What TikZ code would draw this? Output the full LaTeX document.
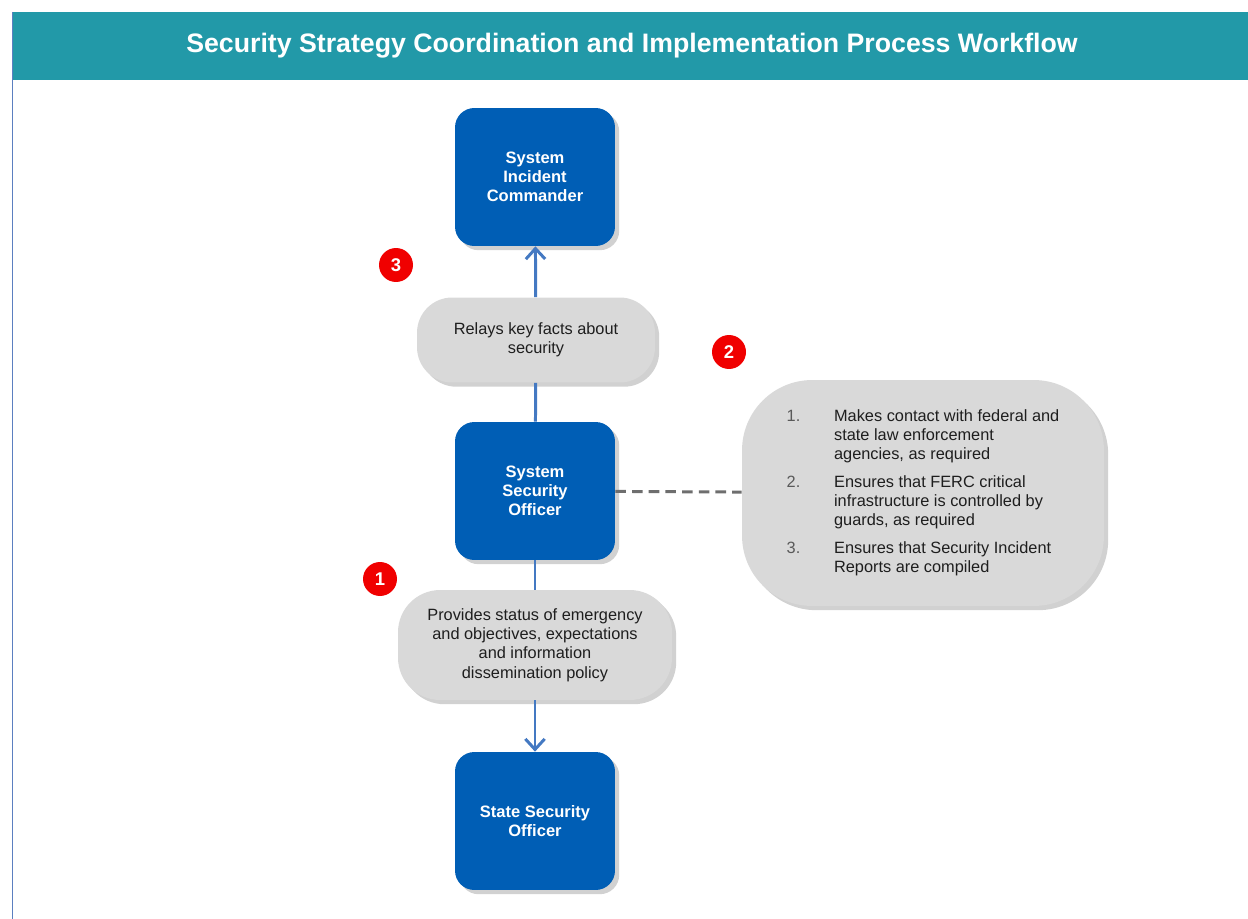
\documentclass[tikz,border=0pt]{standalone}
\usepackage{fontspec}
\setmainfont{Liberation Sans}
\usetikzlibrary{arrows.meta,positioning,shadows}
\definecolor{cHead}{HTML}{2299A8}
\definecolor{cRole}{HTML}{005EB5}
\definecolor{cLink}{HTML}{4479C2}
\definecolor{cNote}{HTML}{D9D9D9}
\definecolor{cDash}{HTML}{6E6E6E}
\definecolor{cMark}{HTML}{F00000}
\definecolor{cInk}{HTML}{1E1E1E}
\definecolor{cEdge}{HTML}{5B7FC0}
\newcommand{\itemno}[1]{\textcolor{black!65}{#1}}
\tikzset{
  dropshade/.style={drop shadow={shadow xshift=2.4pt, shadow yshift=-2.4pt, opacity=0.3, fill=black!60}},
  role/.style={dropshade, fill=cRole, draw=none, rounded corners=11pt, text=white,
               font=\bfseries\fontsize{9.4}{10.8}\selectfont, align=center,
               minimum width=3.2cm, minimum height=2.76cm},
  note/.style={dropshade, fill=cNote, draw=none, text=cInk, align=center,
               font=\fontsize{9.3}{11}\selectfont},
  stepmark/.style={circle, fill=cMark, text=white, minimum size=0.68cm, inner sep=0pt,
               font=\bfseries\fontsize{10.5}{12}\selectfont},
  link/.style={draw=cLink, line width=1.7pt},
  linkarrow/.style={link, -{Straight Barb[length=6pt,width=11pt,line width=1.7pt]}},
}

\begin{document}
\begin{tikzpicture}[x=0.02cm,y=-0.02cm]
\useasboundingbox (0,0) rectangle (1248,919);

% ================================================== header
\fill[cHead] (12,12) rectangle (1248,80);
\draw[draw=cEdge, line width=0.5pt] (12,12) -- (12,919);
\node[text=white, font=\bfseries\fontsize{15.2}{17}\selectfont] (title) at (632,46)
      {Security Strategy Coordination and Implementation Process Workflow};

% ================================================== roles
\node[role] (sic) at (535,177) {System\\Incident\\Commander};
\node[role] (sso) at (535,491) {System\\Security\\Officer};
\node[role] (state) at (535,821) {State Security\\Officer};

% ================================================== notes on the links
\node[note, rounded corners=20pt, minimum width=4.76cm, minimum height=1.7cm] (relay) at (536,340)
      {Relays key facts about\\security};
\node[note, rounded corners=24pt, minimum width=5.48cm, minimum height=2.2cm] (status) at (535,645)
      {Provides status of emergency\\and objectives, expectations\\and information\\dissemination policy};
\node[note, rounded corners=40pt, minimum width=7.24cm, minimum height=4.52cm] (duties) at (923,493)
      {\begin{tabular}{@{}p{27pt}@{}l@{}}
        \itemno{1.} & Makes contact with federal and\\
           & state law enforcement\\
           & agencies, as required\\[4.5pt]
        \itemno{2.} & Ensures that FERC critical\\
           & infrastructure is controlled by\\
           & guards, as required\\[4.5pt]
        \itemno{3.} & Ensures that Security Incident\\
           & Reports are compiled
       \end{tabular}};

% ================================================== connectors
\draw[linkarrow] (relay) -- (sic);
\draw[link] (sso) -- (relay);
\draw[link] (sso) -- (status);
\draw[linkarrow] (status) -- (state);
\draw[draw=cDash, line width=1.7pt, dash pattern=on 6pt off 3.5pt] (sso) -- (duties);

% ================================================== step marks
\node[stepmark] (m3) at (396,265) {3};
\node[stepmark] (m2) at (729,352) {2};
\node[stepmark] (m1) at (380,579) {1};

\end{tikzpicture}
\end{document}
